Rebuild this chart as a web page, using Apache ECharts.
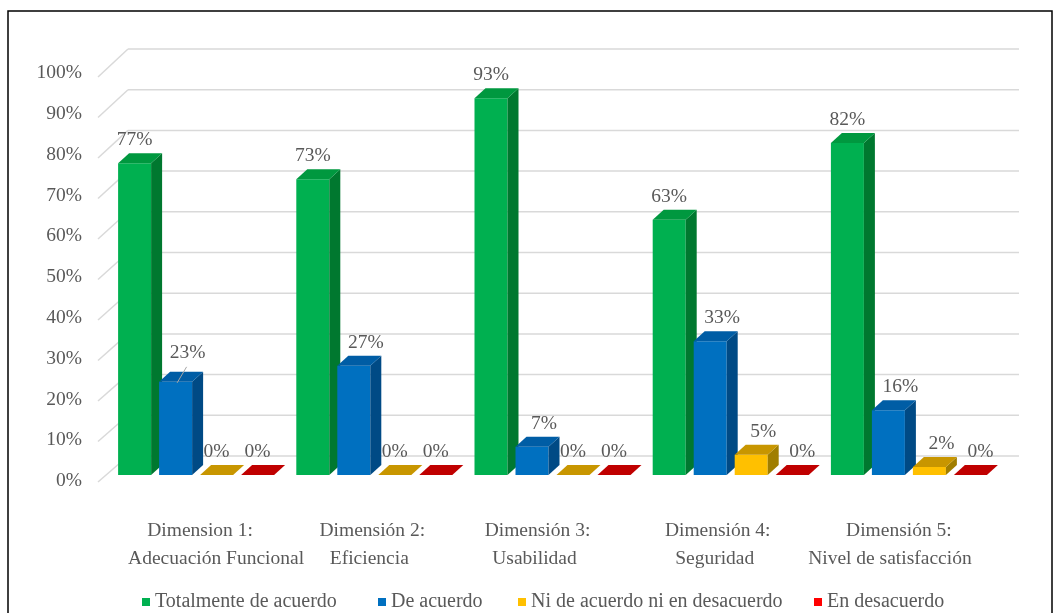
<!DOCTYPE html>
<html>
<head>
<meta charset="utf-8">
<script src="https://cdn.jsdelivr.net/npm/echarts@6/dist/echarts.min.js"></script>
<style>html,body{margin:0;padding:0;background:#fff}#c{width:1059px;height:613px}</style>
</head>
<body>
<div id="c"></div>
<script>
const categories = [
  'Dimension 1:\nAdecuación Funcional',
  'Dimensión 2:\nEficiencia',
  'Dimensión 3:\nUsabilidad',
  'Dimensión 4:\nSeguridad',
  'Dimensión 5:\nNivel de satisfacción'
];
const seriesNames = ['Totalmente de acuerdo', 'De acuerdo', 'Ni de acuerdo ni en desacuerdo', 'En desacuerdo'];
const totalmente = [0.77, 0.73, 0.93, 0.63, 0.82];
const deAcuerdo = [0.23, 0.27, 0.07, 0.33, 0.16];
const niNi = [0, 0, 0, 0.05, 0.02];
const desacuerdo = [0, 0, 0, 0, 0];
const yTicks = [0, 0.1, 0.2, 0.3, 0.4, 0.5, 0.6, 0.7, 0.8, 0.9, 1.0];

const FONT = '"Liberation Serif", "Times New Roman", serif';
const FS = 19.5;
const TXT = '#595959';
const palettes = [
  {front: '#00B050', side: '#00782F', top: '#00983F', legend: '#00B050'},
  {front: '#0070C0', side: '#004A85', top: '#005DA5', legend: '#0070C0'},
  {front: '#FFC000', side: '#A07E00', top: '#C89600', legend: '#FFC000'},
  {front: '#FF0000', side: '#A00000', top: '#C00000', legend: '#FF0000'}
];
const allValues = [totalmente, deAcuerdo, niNi, desacuerdo];

const BAR_W = 33, BAR_PITCH = 41, DX = 11, DY = -10;
const BACK_DX = 21, BACK_DY = -19, FRONT_DX = -9, FRONT_DY = 7;

function barRender(s) {
  return function (params, api) {
    const idx = api.value(0);
    const v = api.value(1);
    const base = api.coord([idx, 0]);
    const top = api.coord([idx, v]);
    const groupW = 4 * BAR_W + 3 * (BAR_PITCH - BAR_W);
    const x0 = base[0] - groupW / 2 + s * BAR_PITCH;
    const x1 = x0 + BAR_W;
    const yb = base[1], yt = top[1];
    const p = palettes[s];
    const children = [];
    if (yb - yt > 0.5) {
      children.push({type: 'rect', shape: {x: x0, y: yt, width: BAR_W, height: yb - yt}, style: {fill: p.front}});
      children.push({type: 'polygon', shape: {points: [[x1, yt], [x1 + DX, yt + DY], [x1 + DX, yb + DY], [x1, yb]]}, style: {fill: p.side}});
    }
    children.push({type: 'polygon', shape: {points: [[x0, yt], [x0 + DX, yt + DY], [x1 + DX, yt + DY], [x1, yt]]}, style: {fill: p.top}});
    // label placement (Excel-like: some labels were nudged right in the original)
    let lx = (x0 + x1) / 2, ly = yt - 23;
    if ((s === 1 || s === 2) && v > 0) lx += 12;
    if (s === 3 && idx >= 3) lx += 10;
    if (s === 1 && idx === 0) {
      ly -= 6;
      children.push({type: 'line', shape: {x1: lx - 1, y1: ly + 14, x2: x0 + 18, y2: yt + 1}, style: {stroke: '#A6A6A6', lineWidth: 1}});
    }
    children.push({type: 'text', style: {x: lx, y: ly, text: Math.round(v * 100) + '%', align: 'center', verticalAlign: 'middle', font: FS + 'px ' + FONT, fill: TXT}});
    return {type: 'group', children: children};
  };
}

function gridRender(params, api) {
  const v = api.value(1);
  const cs = params.coordSys;
  const y = api.coord([0, v])[1];
  const left = cs.x, right = cs.x + cs.width;
  const yBack = y + BACK_DY - 2 * v;
  const st = {stroke: '#D9D9D9', lineWidth: 1.5};
  return {type: 'group', children: [
    {type: 'line', shape: {x1: left + BACK_DX, y1: yBack, x2: right + BACK_DX, y2: yBack}, style: st},
    {type: 'line', shape: {x1: left + FRONT_DX, y1: y + FRONT_DY, x2: left + BACK_DX, y2: yBack}, style: st}
  ]};
}

// per-line horizontal nudges of the category labels (px, relative to band centre)
const labelShift = [[4, 20], [-2, -5], [-15, -18], [-13, -16], [-10, -19]];
const rich = {};
labelShift.forEach(function (pair, i) {
  pair.forEach(function (d, j) {
    rich['c' + i + '_' + j] = {
      fontFamily: FONT, fontSize: FS, lineHeight: 28, color: TXT,
      padding: d >= 0 ? [0, 0, 0, 2 * d] : [0, -2 * d, 0, 0]
    };
  });
});

const series = [{
  type: 'custom', name: '_grid', xAxisIndex: 0, yAxisIndex: 0, z: 0, silent: true,
  renderItem: gridRender,
  data: yTicks.map(function (t) { return [0, t]; })
}];
seriesNames.forEach(function (n, s) {
  series.push({
    type: 'custom', name: n, xAxisIndex: 0, yAxisIndex: 0, z: 2 + s,
    itemStyle: {color: palettes[s].legend},
    renderItem: barRender(s),
    data: allValues[s].map(function (v, i) { return [i, v]; })
  });
});

const legendLefts = [137, 373, 513, 809];
const legends = seriesNames.map(function (n, i) {
  return {
    data: [{name: n, icon: 'rect'}], left: legendLefts[i], top: 587,
    itemWidth: 8, itemHeight: 8, selectedMode: false,
    textStyle: {fontFamily: FONT, fontSize: 20, color: TXT}
  };
});

const chart = echarts.init(document.getElementById('c'));
chart.setOption({
  animation: false,
  backgroundColor: '#fff',
  graphic: [{type: 'rect', shape: {x: 8, y: 11, width: 1044, height: 640}, style: {fill: 'none', stroke: '#000', lineWidth: 1.5}, silent: true}],
  legend: legends,
  grid: [
    {left: 107, right: 61, top: 70, bottom: 138},
    {left: 90, right: 61, top: 73, bottom: 132}
  ],
  xAxis: [
    {type: 'category', gridIndex: 0, data: categories,
     axisLine: {show: false}, axisTick: {show: false},
     axisLabel: {interval: 0, margin: 42, fontFamily: FONT, fontSize: FS, lineHeight: 28, color: TXT,
       formatter: function (val, i) {
         return val.split('\n').map(function (line, j) { return '{c' + i + '_' + j + '|' + line + '}'; }).join('\n');
       }, rich: rich}},
    {type: 'value', gridIndex: 1, show: false}
  ],
  yAxis: [
    {type: 'value', gridIndex: 0, min: 0, max: 1, interval: 0.1, show: false, splitLine: {show: false}},
    {type: 'value', gridIndex: 1, min: 0, max: 1, interval: 0.1,
     axisLine: {show: false}, axisTick: {show: false}, splitLine: {show: false},
     axisLabel: {margin: 8, fontFamily: FONT, fontSize: FS, color: TXT,
       formatter: function (v) { return Math.round(v * 100) + '%'; }}}
  ],
  series: series
});
</script>
</body>
</html>
